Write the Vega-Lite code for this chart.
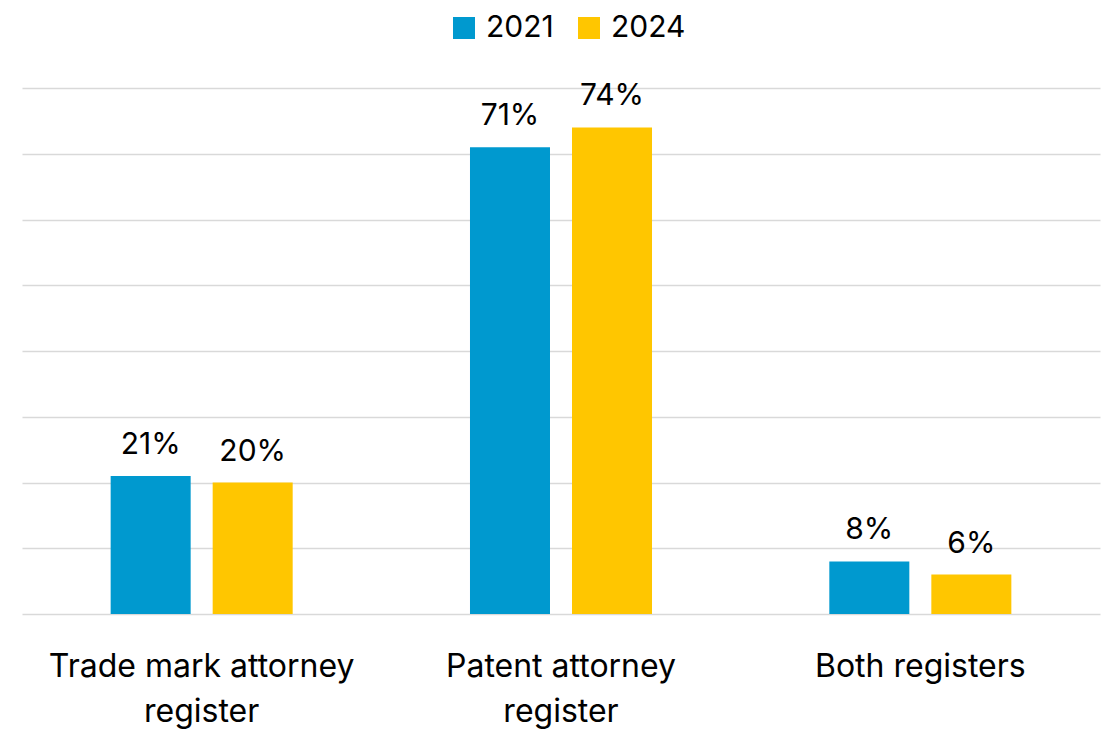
{
  "$schema": "https://vega.github.io/schema/vega-lite/v6.json",
  "width": 1078,
  "height": 526,
  "autosize": {"type": "none"},
  "padding": {"left": 22, "top": 88, "right": 9, "bottom": 117},
  "background": "white",
  "config": {"view": {"stroke": null}, "font": "Inter"},
  "data": {
    "values": [
      {"category": "Trade mark attorney register", "year": "2021", "value": 0.21},
      {"category": "Trade mark attorney register", "year": "2024", "value": 0.20},
      {"category": "Patent attorney register", "year": "2021", "value": 0.71},
      {"category": "Patent attorney register", "year": "2024", "value": 0.74},
      {"category": "Both registers", "year": "2021", "value": 0.08},
      {"category": "Both registers", "year": "2024", "value": 0.06}
    ]
  },
  "encoding": {
    "x": {
      "field": "category",
      "type": "nominal",
      "sort": ["Trade mark attorney register", "Patent attorney register", "Both registers"],
      "scale": {"paddingInner": 0, "paddingOuter": 0},
      "axis": {
        "title": null,
        "domain": false,
        "ticks": false,
        "labelAngle": 0,
        "labelFontSize": 32,
        "labelColor": "#000000",
        "labelPadding": 37,
        "labelLineHeight": 45,
        "labelBaseline": "top",
        "labelLimit": 600,
        "labelExpr": "datum.label == 'Both registers' ? datum.label : [replace(datum.label, ' register', ''), 'register']"
      }
    },
    "xOffset": {
      "field": "year",
      "type": "nominal",
      "scale": {"paddingInner": 0.2157, "paddingOuter": 0.869}
    },
    "y": {
      "field": "value",
      "type": "quantitative",
      "scale": {"domain": [0, 0.8], "nice": false},
      "axis": {
        "title": null,
        "labels": false,
        "ticks": false,
        "domain": false,
        "values": [0, 0.1, 0.2, 0.3, 0.4, 0.5, 0.6, 0.7, 0.8],
        "gridColor": "#d9d9d9",
        "gridWidth": 1.5,
        "gridOpacity": 1
      }
    }
  },
  "layer": [
    {
      "mark": {"type": "bar"},
      "encoding": {
        "color": {
          "field": "year",
          "type": "nominal",
          "scale": {"domain": ["2021", "2024"], "range": ["#0099CF", "#FFC600"]},
          "legend": {
            "title": null,
            "orient": "none",
            "direction": "horizontal",
            "legendX": 427,
            "legendY": -75,
            "symbolType": "square",
            "symbolSize": 484,
            "symbolStrokeWidth": 0,
            "symbolOpacity": 1,
            "labelFontSize": 30,
            "labelColor": "#000000",
            "labelOffset": 7,
            "columnPadding": 20
          }
        }
      }
    },
    {
      "mark": {"type": "text", "dy": -22, "baseline": "alphabetic", "fontSize": 30, "color": "#000000"},
      "encoding": {
        "text": {"field": "value", "type": "quantitative", "format": ".0%"}
      }
    }
  ]
}
